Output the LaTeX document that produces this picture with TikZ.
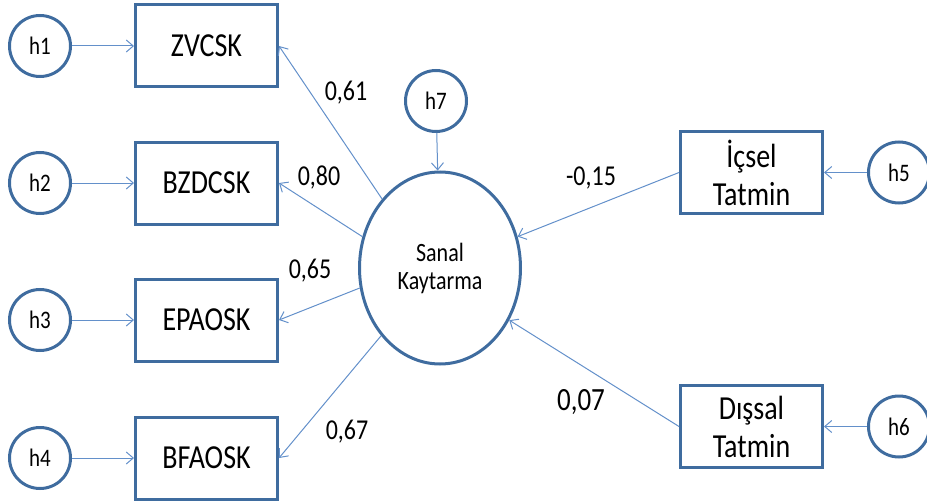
\documentclass[tikz,border=0pt]{standalone}
\usepackage{fontspec}
\usepackage{graphicx}
\setmainfont{Carlito}
\usetikzlibrary{arrows.meta,shapes.geometric}
\definecolor{shapeblue}{HTML}{3F6C9F}
\definecolor{arrowblue}{HTML}{6390CA}
\newcommand\tallt[1]{\scalebox{1}[1.2]{#1}}
\tikzset{
  obsbox/.style={draw=shapeblue,line width=3pt,rectangle,minimum width=142pt,minimum height=82pt,inner sep=0pt,font=\fontsize{28}{38}\selectfont,align=center},
  errc/.style={draw=shapeblue,line width=3pt,circle,minimum size=61pt,inner sep=0pt,font=\fontsize{21}{24}\selectfont},
  latent/.style={draw=shapeblue,line width=3pt,ellipse,minimum width=161pt,minimum height=192pt,inner sep=0pt,font=\fontsize{22}{28}\selectfont,align=center},
  conn/.style={draw=arrowblue,line width=1pt,-{Straight Barb[length=7pt,width=12pt]}},
  coef/.style={inner sep=0pt,font=\fontsize{24}{28}\selectfont}
}
\begin{document}
\begin{tikzpicture}[x=1pt,y=-1pt]
\useasboundingbox (0,0) rectangle (927,503);
% left observed boxes
\node[obsbox] (zv) at (206.5,46) {\tallt{ZVCSK}};
\node[obsbox] (bz) at (206.5,183) {\tallt{BZDCSK}};
\node[obsbox] (ep) at (206.5,320) {\tallt{EPAOSK}};
\node[obsbox] (bf) at (206.5,458) {\tallt{BFAOSK}};
% error circles left
\node[errc] (h1) at (40,46) {\tallt{h1}};
\node[errc] (h2) at (40,183) {\tallt{h2}};
\node[errc] (h3) at (40,320) {\tallt{h3}};
\node[errc] (h4) at (40,458) {\tallt{h4}};
% latent
\node[latent] (sk) at (440,268) {\tallt{Sanal}\\\tallt{Kaytarma}};
\node[errc] (h7) at (436,101) {\tallt{h7}};
% right boxes
\node[obsbox] (ic) at (751.5,172.5) {\tallt{İçsel}\\\tallt{Tatmin}};
\node[obsbox] (ds) at (751.5,426.5) {\tallt{Dışsal}\\\tallt{Tatmin}};
\node[errc] (h5) at (899,172.5) {\tallt{h5}};
\node[errc] (h6) at (899,426.5) {\tallt{h6}};
% connectors
\draw[conn] (h1) -- (zv);
\draw[conn] (h2) -- (bz);
\draw[conn] (h3) -- (ep);
\draw[conn] (h4) -- (bf);
\draw[conn] (h7) -- (sk);
\draw[conn] (h5) -- (ic);
\draw[conn] (h6) -- (ds);
\draw[conn] (sk.130) -- (zv.east);
\draw[conn] (sk.158) -- (bz.east);
\draw[conn] (sk.194) -- (ep.east);
\draw[conn] (sk.229) -- (bf.east);
\draw[conn] (ic.west) -- (sk.22);
\draw[conn] (ds.west) -- (sk.323);
% coefficients
\node[coef] (c1) at (346,93) {\tallt{0,61}};
\node[coef] (c2) at (319,178) {\tallt{0,80}};
\node[coef] (c3) at (310,271) {\tallt{0,65}};
\node[coef] (c4) at (347,432) {\tallt{0,67}};
\node[coef] (c5) at (591,178) {\tallt{-0,15}};
\node[coef,font=\fontsize{27}{30}\selectfont] (c6) at (581,402) {\tallt{0,07}};
\end{tikzpicture}
\end{document}
